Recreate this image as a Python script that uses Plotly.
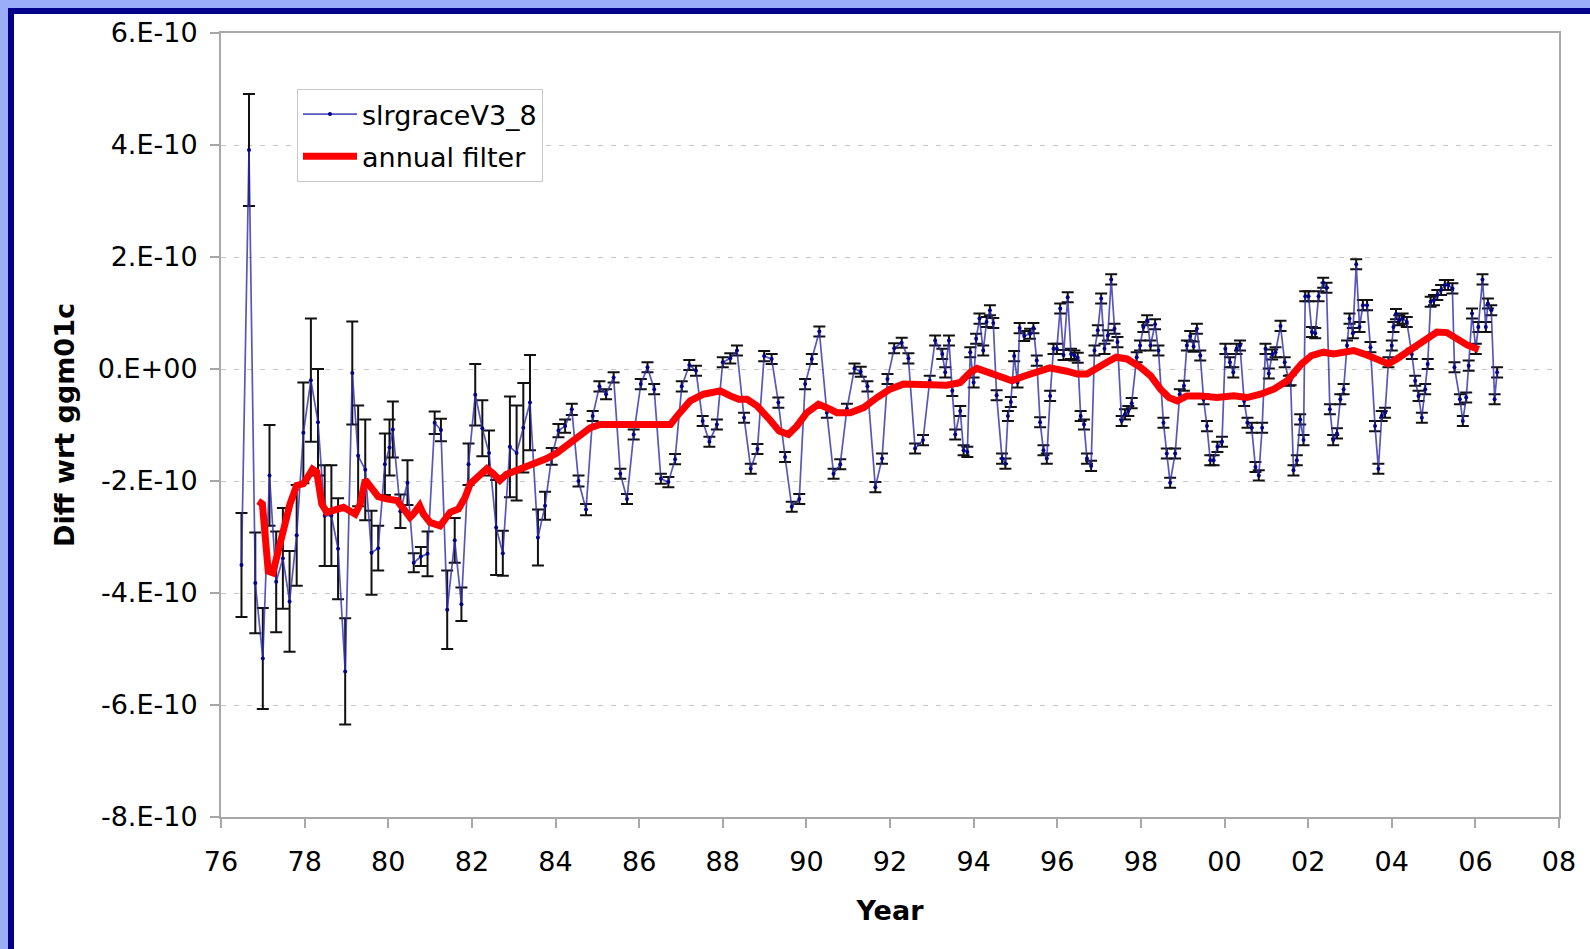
import numpy as np
import plotly.graph_objects as go

SCALE = 1e-10

# slrgraceV3_8 series (decimal year, value in 1e-10, 1-sigma error in 1e-10)
slr_year = [
    1976.49, 1976.67, 1976.82, 1977.00, 1977.16, 1977.32, 1977.48, 1977.64, 1977.81, 1977.97,
    1978.15, 1978.32, 1978.48, 1978.64, 1978.80, 1978.97, 1979.14, 1979.28, 1979.45, 1979.60,
    1979.76, 1979.92, 1980.03, 1980.11, 1980.29, 1980.46, 1980.61, 1980.78, 1980.94, 1981.11,
    1981.26, 1981.41, 1981.59, 1981.75, 1981.92, 1982.08, 1982.25, 1982.41, 1982.58, 1982.74,
    1982.91, 1983.07, 1983.23, 1983.39, 1983.58, 1983.75, 1983.91, 1984.07, 1984.23, 1984.39,
    1984.55, 1984.73, 1984.89, 1985.05, 1985.21, 1985.39, 1985.55, 1985.71, 1985.87, 1986.04,
    1986.20, 1986.36, 1986.52, 1986.70, 1986.86, 1987.02, 1987.20, 1987.36, 1987.52, 1987.68,
    1987.86, 1988.00, 1988.18, 1988.34, 1988.51, 1988.67, 1988.83, 1988.99, 1989.17, 1989.33,
    1989.49, 1989.65, 1989.83, 1989.97, 1990.13, 1990.31, 1990.49, 1990.65, 1990.81, 1990.97,
    1991.15, 1991.30, 1991.46, 1991.65, 1991.81, 1991.94, 1992.10, 1992.28, 1992.44, 1992.60,
    1992.79, 1992.95, 1993.08, 1993.25, 1993.32, 1993.41, 1993.49, 1993.56, 1993.68, 1993.76,
    1993.85, 1993.92, 1994.00, 1994.06, 1994.14, 1994.23, 1994.31, 1994.39, 1994.47, 1994.55,
    1994.68, 1994.76, 1994.82, 1994.89, 1994.97, 1995.05, 1995.10, 1995.21, 1995.35, 1995.43,
    1995.51, 1995.59, 1995.67, 1995.75, 1995.83, 1995.91, 1995.99, 1996.07, 1996.15, 1996.25,
    1996.33, 1996.41, 1996.49, 1996.56, 1996.64, 1996.71, 1996.81, 1996.89, 1996.97, 1997.05,
    1997.13, 1997.21, 1997.29, 1997.37, 1997.44, 1997.54, 1997.62, 1997.70, 1997.78, 1997.90,
    1997.98, 1998.06, 1998.15, 1998.23, 1998.34, 1998.42, 1998.54, 1998.62, 1998.70, 1998.82,
    1998.93, 1999.03, 1999.10, 1999.18, 1999.26, 1999.34, 1999.42, 1999.50, 1999.58, 1999.66,
    1999.74, 1999.83, 1999.94, 2000.02, 2000.13, 2000.21, 2000.29, 2000.37, 2000.47, 2000.55,
    2000.65, 2000.74, 2000.82, 2000.90, 2000.98, 2001.06, 2001.14, 2001.22, 2001.34, 2001.44,
    2001.54, 2001.58, 2001.65, 2001.73, 2001.81, 2001.89, 2001.93, 2002.01, 2002.09, 2002.17,
    2002.25, 2002.36, 2002.44, 2002.52, 2002.60, 2002.69, 2002.77, 2002.85, 2002.93, 2002.99,
    2003.07, 2003.15, 2003.23, 2003.31, 2003.41, 2003.49, 2003.60, 2003.68, 2003.76, 2003.84,
    2003.92, 2004.00, 2004.04, 2004.10, 2004.18, 2004.26, 2004.36, 2004.48, 2004.56, 2004.64,
    2004.72, 2004.80, 2004.86, 2004.93, 2005.01, 2005.09, 2005.18, 2005.27, 2005.35, 2005.45,
    2005.50, 2005.63, 2005.70, 2005.78, 2005.84, 2005.92, 2006.01, 2006.07, 2006.17, 2006.25,
    2006.30, 2006.38, 2006.46, 2006.52,
]
slr_value = [
    -3.50, 3.91, -3.82, -5.17, -1.90, -3.80, -3.38, -4.15, -2.97, -1.14,
    -0.20, -0.95, -2.62, -2.62, -3.21, -5.40, -0.07, -1.55, -1.80, -3.28,
    -3.20, -1.70, -1.40, -1.08, -2.54, -2.03, -3.46, -3.35, -3.30, -0.96,
    -1.09, -4.30, -3.06, -4.20, -1.70, -0.46, -1.06, -1.50, -2.83, -3.29,
    -1.39, -1.50, -1.05, -0.60, -3.01, -2.44, -1.56, -1.10, -1.02, -0.72,
    -2.00, -2.51, -0.84, -0.31, -0.45, -0.15, -1.87, -2.32, -1.17, -0.27,
    0.03, -0.36, -1.96, -2.02, -1.61, -0.31, 0.07, -0.03, -0.93, -1.30,
    -0.99, 0.12, 0.19, 0.33, -0.87, -1.78, -1.43, 0.23, 0.18, -0.60,
    -1.57, -2.46, -2.32, -0.27, 0.18, 0.67, -0.78, -1.87, -1.70, -0.71,
    0.01, -0.05, -0.31, -2.11, -1.60, -0.18, 0.37, 0.47, 0.19, -1.42,
    -1.27, -0.21, 0.51, 0.27, -0.06, 0.51, -0.39, -1.17, -0.75, -1.45,
    -1.48, 0.30, -0.24, 0.54, 0.90, 0.33, 0.84, 1.05, 0.82, -0.47,
    -1.60, -1.69, -0.84, -0.59, 0.23, -0.24, 0.73, 0.59, 0.63, 0.73,
    0.15, -0.95, -1.45, -1.60, -0.48, 0.36, 0.36, 1.08, 0.25, 1.28,
    0.27, 0.24, 0.20, -0.84, -0.99, -1.60, -1.73, 0.33, 0.69, 1.26,
    0.36, 0.60, 1.60, 0.72, 0.48, -0.93, -0.81, -0.75, -0.61, 0.21,
    0.42, 0.75, 0.87, 0.42, 0.80, 0.33, -0.96, -1.51, -2.03, -1.51,
    -0.45, -0.30, 0.42, 0.59, 0.40, 0.72, 0.24, -0.54, -1.02, -1.63,
    -1.63, -1.39, -1.30, 0.36, 0.12, -0.06, 0.36, 0.42, -0.57, -0.96,
    -1.05, -1.75, -1.90, -1.05, 0.36, -0.08, 0.26, 0.30, 0.77, 0.12,
    -0.21, -0.20, -1.81, -1.63, -0.90, -1.27, 1.30, 1.30, 0.66, 0.64,
    1.30, 1.54, 1.45, -0.72, -1.27, -1.15, -0.54, -0.36, 0.42, 0.90,
    0.64, 1.87, 0.75, 1.14, 1.14, 0.39, -1.02, -1.78, -0.84, -0.78,
    0.12, 0.42, 0.75, 0.98, 0.87, 0.90, 0.84, 0.27, -0.21, -0.48,
    -0.87, -0.36, 0.09, 1.20, 1.23, 1.32, 1.41, 1.50, 1.50, 1.44,
    0.03, -0.54, -0.93, -0.51, 0.06, 0.99, 0.36, 0.75, 1.60, 0.75,
    1.17, 1.05, -0.54, -0.06,
]
slr_error = [
    0.93, 1.00, 0.90, 0.90, 0.90, 0.90, 0.90, 0.90, 0.90, 0.90,
    1.10, 0.95, 0.90, 0.90, 0.90, 0.95, 0.92, 0.90, 0.90, 0.75,
    0.40, 0.55, 0.50, 0.50, 0.30, 0.40, 0.17, 0.17, 0.40, 0.20,
    0.20, 0.70, 0.40, 0.30, 0.37, 0.55, 0.50, 0.40, 0.85, 0.40,
    0.90, 0.85, 0.80, 0.85, 0.50, 0.25, 0.15, 0.12, 0.12, 0.10,
    0.10, 0.10, 0.09, 0.09, 0.09, 0.09, 0.09, 0.09, 0.09, 0.09,
    0.09, 0.09, 0.09, 0.09, 0.09, 0.09, 0.09, 0.09, 0.09, 0.09,
    0.09, 0.09, 0.09, 0.09, 0.09, 0.09, 0.09, 0.09, 0.09, 0.09,
    0.09, 0.09, 0.09, 0.09, 0.09, 0.09, 0.09, 0.09, 0.09, 0.09,
    0.09, 0.09, 0.09, 0.09, 0.09, 0.09, 0.09, 0.09, 0.09, 0.09,
    0.09, 0.09, 0.09, 0.09, 0.09, 0.09, 0.09, 0.09, 0.09, 0.09,
    0.09, 0.09, 0.09, 0.09, 0.09, 0.09, 0.09, 0.09, 0.09, 0.09,
    0.09, 0.09, 0.09, 0.09, 0.09, 0.09, 0.09, 0.09, 0.09, 0.09,
    0.09, 0.09, 0.09, 0.09, 0.09, 0.09, 0.09, 0.09, 0.09, 0.09,
    0.09, 0.09, 0.09, 0.09, 0.09, 0.09, 0.09, 0.09, 0.09, 0.09,
    0.09, 0.09, 0.09, 0.09, 0.09, 0.09, 0.09, 0.09, 0.09, 0.09,
    0.09, 0.09, 0.09, 0.09, 0.09, 0.09, 0.09, 0.09, 0.09, 0.09,
    0.09, 0.09, 0.09, 0.09, 0.09, 0.09, 0.09, 0.09, 0.09, 0.09,
    0.09, 0.09, 0.09, 0.09, 0.09, 0.09, 0.09, 0.09, 0.09, 0.09,
    0.09, 0.09, 0.09, 0.09, 0.09, 0.09, 0.09, 0.09, 0.09, 0.09,
    0.09, 0.09, 0.09, 0.09, 0.09, 0.09, 0.09, 0.09, 0.09, 0.09,
    0.09, 0.09, 0.09, 0.09, 0.09, 0.09, 0.09, 0.09, 0.09, 0.09,
    0.09, 0.09, 0.09, 0.09, 0.09, 0.09, 0.09, 0.09, 0.09, 0.09,
    0.09, 0.09, 0.09, 0.09, 0.09, 0.09, 0.09, 0.09, 0.09, 0.09,
    0.09, 0.09, 0.09, 0.09, 0.09, 0.09, 0.09, 0.09, 0.09, 0.09,
    0.09, 0.09, 0.09, 0.09, 0.09, 0.09, 0.09, 0.09, 0.09, 0.09,
    0.09, 0.09, 0.09, 0.09,
]

# annual filter series (decimal year, value in 1e-10)
filt_year = [
    1976.89, 1976.99, 1977.13, 1977.24, 1977.37, 1977.49, 1977.65, 1977.81, 1977.97, 1978.05,
    1978.19, 1978.29, 1978.41, 1978.53, 1978.69, 1978.93, 1979.21, 1979.33, 1979.45, 1979.57,
    1979.76, 1979.96, 1980.21, 1980.40, 1980.52, 1980.60, 1980.75, 1980.84, 1981.00, 1981.24,
    1981.48, 1981.68, 1981.84, 1981.96, 1982.12, 1982.36, 1982.51, 1982.67, 1982.83, 1983.08,
    1983.31, 1983.55, 1983.79, 1984.03, 1984.30, 1984.59, 1984.83, 1985.07, 1985.39, 1985.78,
    1986.18, 1986.58, 1986.75, 1986.94, 1987.22, 1987.54, 1987.94, 1988.18, 1988.38, 1988.58,
    1988.82, 1989.13, 1989.35, 1989.57, 1989.77, 1990.01, 1990.29, 1990.49, 1990.73, 1991.05,
    1991.37, 1991.69, 1992.00, 1992.32, 1992.64, 1992.96, 1993.36, 1993.68, 1993.92, 1994.08,
    1994.32, 1994.64, 1994.92, 1995.20, 1995.51, 1995.82, 1996.23, 1996.48, 1996.71, 1996.95,
    1997.19, 1997.41, 1997.67, 1997.99, 1998.23, 1998.47, 1998.67, 1998.87, 1999.10, 1999.42,
    1999.82, 2000.22, 2000.54, 2000.86, 2001.18, 2001.50, 2001.84, 2002.08, 2002.37, 2002.61,
    2002.85, 2003.09, 2003.33, 2003.65, 2003.92, 2004.12, 2004.36, 2004.60, 2004.84, 2005.08,
    2005.32, 2005.56, 2005.80, 2006.08,
]
filt_value = [
    -2.36, -2.41, -3.61, -3.64, -3.25, -2.83, -2.41, -2.08, -2.05, -1.96,
    -1.79, -1.84, -2.41, -2.56, -2.52, -2.47, -2.59, -2.41, -1.98, -2.11,
    -2.28, -2.32, -2.35, -2.53, -2.65, -2.59, -2.44, -2.59, -2.74, -2.80,
    -2.56, -2.50, -2.29, -2.05, -1.93, -1.78, -1.87, -1.99, -1.88, -1.81,
    -1.75, -1.69, -1.60, -1.50, -1.36, -1.20, -1.05, -0.99, -0.99, -0.99,
    -0.99, -1.01, -0.99, -0.81, -0.57, -0.45, -0.39, -0.48, -0.54, -0.54,
    -0.66, -0.91, -1.11, -1.17, -1.02, -0.78, -0.63, -0.69, -0.78, -0.78,
    -0.69, -0.51, -0.36, -0.27, -0.27, -0.30, -0.29, -0.24, -0.06, 0.01,
    -0.06, -0.13, -0.21, -0.13, -0.06, 0.02, -0.04, -0.09, -0.09, 0.03,
    0.12, 0.21, 0.18, 0.03, -0.12, -0.36, -0.51, -0.57, -0.48, -0.48,
    -0.51, -0.48, -0.51, -0.45, -0.36, -0.21, 0.09, 0.24, 0.30, 0.27,
    0.30, 0.33, 0.27, 0.18, 0.09, 0.18, 0.30, 0.39, 0.54, 0.66,
    0.65, 0.54, 0.43, 0.35,
]

x_tickvals = [1976, 1978, 1980, 1982, 1984, 1986, 1988, 1990, 1992, 1994, 1996, 1998, 2000, 2002, 2004, 2006, 2008]
x_ticktext = ["76", "78", "80", "82", "84", "86", "88", "90", "92", "94", "96", "98", "00", "02", "04", "06", "08"]
y_tickvals = [-8, -6, -4, -2, 0, 2, 4, 6]
y_ticktext = ["-8.E-10", "-6.E-10", "-4.E-10", "-2.E-10", "0.E+00", "2.E-10", "4.E-10", "6.E-10"]

FONT = "DejaVu Sans, Verdana, sans-serif"
FS = 27
W, H = 1590, 949
L, R, T, B = 221, 1559, 33, 817


def px_x(px):
    return (px - L) / (R - L)


def px_y(py):
    return (B - py) / (B - T)


fig = go.Figure()
fig.add_trace(go.Scatter(
    x=slr_year, y=np.array(slr_value) * SCALE,
    mode="lines+markers", name="slrgraceV3_8", legendgroup="a",
    line=dict(color="rgba(45,45,170,0.8)", width=1.7),
    marker=dict(color="#00008b", size=4),
    error_y=dict(type="data", array=np.array(slr_error) * SCALE,
                 color="#111111", thickness=2, width=6),
))
fig.add_trace(go.Scatter(
    x=filt_year, y=np.array(filt_value) * SCALE,
    mode="lines", name="annual filter", legendgroup="b",
    line=dict(color="#ff0000", width=7),
))

shapes = [
    dict(type="rect", xref="paper", yref="paper", layer="above",
         x0=px_x(0), x1=px_x(W), y0=px_y(0), y1=px_y(8),
         fillcolor="#9aaef7", line=dict(width=0)),
    dict(type="rect", xref="paper", yref="paper", layer="above",
         x0=px_x(0), x1=px_x(8), y0=px_y(0), y1=px_y(H),
         fillcolor="#9aaef7", line=dict(width=0)),
    dict(type="rect", xref="paper", yref="paper", layer="above",
         x0=px_x(8), x1=px_x(W), y0=px_y(8), y1=px_y(14),
         fillcolor="#00008b", line=dict(width=0)),
    dict(type="rect", xref="paper", yref="paper", layer="above",
         x0=px_x(8), x1=px_x(14), y0=px_y(8), y1=px_y(H),
         fillcolor="#00008b", line=dict(width=0)),
]

fig.update_layout(
    width=W, height=H,
    margin=dict(l=L, r=W - R, t=T, b=H - B, autoexpand=False),
    paper_bgcolor="white", plot_bgcolor="white",
    font=dict(family=FONT, size=FS, color="#000000"),
    shapes=shapes,
    showlegend=True,
    legend=dict(x=px_x(297), y=px_y(89), xanchor="left", yanchor="top",
                bgcolor="white", bordercolor="#c8c8c8", borderwidth=1,
                itemwidth=54,
                font=dict(family=FONT, size=FS, color="#000000"),
                tracegroupgap=4, traceorder="grouped"),
    xaxis=dict(
        range=[1976, 2008], tickvals=x_tickvals, ticktext=x_ticktext,
        ticks="outside", ticklen=9, tickwidth=2, tickcolor="#a8a8a8",
        showgrid=False, zeroline=False,
        showline=True, linecolor="#a8a8a8", linewidth=2, mirror=True,
        ticklabelstandoff=11,
        tickfont=dict(family=FONT, size=FS, color="#000000"),
        title=dict(text="<b>Year</b>", standoff=25,
                   font=dict(family=FONT, size=FS, color="#000000")),
    ),
    yaxis=dict(
        range=[-8 * SCALE, 6 * SCALE],
        tickvals=[v * SCALE for v in y_tickvals], ticktext=y_ticktext,
        ticks="outside", ticklen=9, tickwidth=2, tickcolor="#a8a8a8",
        showgrid=True, gridcolor="#c8c8c8", gridwidth=1.2, griddash="5px,8px",
        zeroline=False,
        showline=True, linecolor="#a8a8a8", linewidth=2, mirror=True,
        ticklabelstandoff=7,
        tickfont=dict(family=FONT, size=FS, color="#000000"),
        title=dict(text="<b>Diff wrt ggm01c</b>", standoff=15,
                   font=dict(family=FONT, size=FS, color="#000000")),
    ),
)

fig.write_html("out.html")
